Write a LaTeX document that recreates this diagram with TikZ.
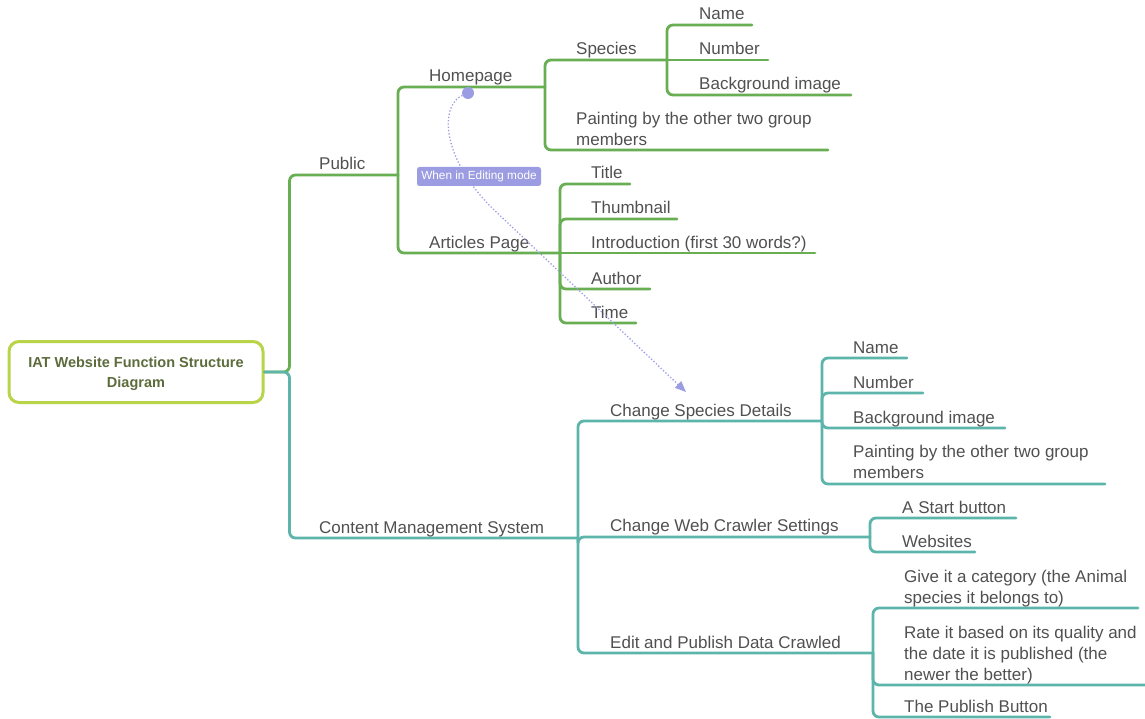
\documentclass[tikz,border=0pt]{standalone}
\usepackage{fontspec}
\setmainfont{Liberation Sans}
\usetikzlibrary{arrows.meta}
\definecolor{mgreen}{RGB}{104,174,82}
\definecolor{mteal}{RGB}{92,180,170}
\definecolor{rootborder}{RGB}{184,212,72}
\definecolor{roottext}{RGB}{92,108,60}
\definecolor{txt}{RGB}{80,80,80}
\definecolor{lav}{RGB}{156,156,226}
\tikzset{
  lbl/.style={anchor=base west, inner sep=0, text=txt, font=\fontsize{17}{21}\selectfont},
  mlbl/.style={anchor=north west, inner sep=0, text=txt, align=left, font=\fontsize{17}{21}\selectfont},
  gline/.style={draw=mgreen, line width=2.8, rounded corners=6, line cap=round},
  tline/.style={draw=mteal, line width=2.8, rounded corners=6, line cap=round},
  rootbox/.style={draw=rootborder, line width=3, rounded corners=10, fill=white,
    minimum width=254, minimum height=61, inner sep=0},
  roottitle/.style={inner sep=0, align=center, text=roottext,
    font=\fontsize{14.5}{20}\selectfont\bfseries},
  editlink/.style={draw=lav, line width=1.3, dotted, -{Triangle[length=11,width=9]}},
  editlabel/.style={fill=lav, text=white, rounded corners=2.5, minimum width=124,
    minimum height=19, inner sep=0, font=\fontsize{11.8}{13}\selectfont},
}
\begin{document}
\begin{tikzpicture}[x=1pt,y=-1pt]
\useasboundingbox (0,0) rectangle (1145,719);

% root
\node[rootbox] (root) at (136,372) {};
\node[roottitle, yshift=-1.5pt] (roottxt) at (root.center) {IAT Website Function Structure\\Diagram};

% ---- underline end coordinates ----
\coordinate (pub-e) at (398,175);
\coordinate (home-e) at (545,87);
\coordinate (spec-e) at (667,60);
\coordinate (name1-e) at (752,25);
\coordinate (num1-e) at (768,60);
\coordinate (bg1-e) at (851,95);
\coordinate (paint1-e) at (828,150);
\coordinate (art-e) at (560,253);
\coordinate (title-e) at (630,184);
\coordinate (thumb-e) at (677,219);
\coordinate (intro-e) at (815,253);
\coordinate (author-e) at (650,289);
\coordinate (time-e) at (636,323);

\coordinate (cms-e) at (578,538);
\coordinate (csd-e) at (822,421);
\coordinate (name2-e) at (907,358);
\coordinate (num2-e) at (923,393);
\coordinate (bg2-e) at (1005,428);
\coordinate (paint2-e) at (1105,484);
\coordinate (cwc-e) at (870,537);
\coordinate (start-e) at (1016,518);
\coordinate (web-e) at (975,552);
\coordinate (epd-e) at (873,653);
\coordinate (cat-e) at (1138,608);
\coordinate (rate-e) at (1146,685);
\coordinate (pubb-e) at (1050,717);

% ---- green branch ----
\draw[gline] (root.east) -- ++(25,0) |- (pub-e);
\draw[gline] (pub-e) |- (home-e);
\draw[gline] (pub-e) |- (art-e);
\draw[gline] (home-e) |- (spec-e);
\draw[gline] (home-e) |- (paint1-e);
\draw[gline] (spec-e) |- (name1-e);
\draw[gline] (spec-e) -- (num1-e);
\draw[gline] (spec-e) |- (bg1-e);
\draw[gline] (art-e) |- (title-e);
\draw[gline] (art-e) |- (thumb-e);
\draw[gline] (art-e) -- (intro-e);
\draw[gline] (art-e) |- (author-e);
\draw[gline] (art-e) |- (time-e);

% ---- teal branch ----
\draw[tline] (root.east) -- ++(25,0) |- (cms-e);
\draw[tline] (cms-e) |- (csd-e);
\draw[tline] (cms-e) |- (cwc-e);
\draw[tline] (cms-e) |- (epd-e);
\draw[tline] (csd-e) |- (name2-e);
\draw[tline] (csd-e) |- (num2-e);
\draw[tline] (csd-e) |- (bg2-e);
\draw[tline] (csd-e) |- (paint2-e);
\draw[tline] (cwc-e) |- (start-e);
\draw[tline] (cwc-e) |- (web-e);
\draw[tline] (epd-e) |- (cat-e);
\draw[tline] (epd-e) |- (rate-e);
\draw[tline] (epd-e) |- (pubb-e);

% ---- labels ----
\node[lbl] (pub) at (319,170) {Public};
\node[lbl] (home) at (429,82) {Homepage};
\node[lbl] (spec) at (576,55) {Species};
\node[lbl] (name1) at (699,20) {Name};
\node[lbl] (num1) at (699,55) {Number};
\node[lbl] (bg1) at (699,90) {Background image};
\node[mlbl] (paint1) at (576,111.5) {Painting by the other two group\\members};
\node[lbl] (art) at (429,248) {Articles Page};
\node[lbl] (title) at (591,179) {Title};
\node[lbl] (thumb) at (591,214) {Thumbnail};
\node[lbl] (intro) at (591,248) {Introduction (first 30 words?)};
\node[lbl] (author) at (591,284) {Author};
\node[lbl] (time) at (591,318) {Time};

\node[lbl] (cms) at (319,533) {Content Management System};
\node[lbl] (csd) at (610,416) {Change Species Details};
\node[lbl] (name2) at (853,353) {Name};
\node[lbl] (num2) at (853,388) {Number};
\node[lbl] (bg2) at (853,423) {Background image};
\node[mlbl] (paint2) at (853,445) {Painting by the other two group\\members};
\node[lbl] (cwc) at (610,531) {Change Web Crawler Settings};
\node[lbl] (start) at (902,513) {A Start button};
\node[lbl] (web) at (902,547) {Websites};
\node[lbl] (epd) at (610,648) {Edit and Publish Data Crawled};
\node[mlbl] (cat) at (904,569.5) {Give it a category (the Animal\\species it belongs to)};
\node[mlbl] (rate) at (904,625.5) {Rate it based on its quality and\\the date it is published (the\\newer the better)};
\node[lbl] (pubb) at (904,712) {The Publish Button};

% ---- editing-mode link ----
\node[circle, fill=lav, minimum size=12, inner sep=0] (hp-dot) at (468,93) {};
\coordinate (csd-tip) at (686,392);
\draw[editlink] (hp-dot) .. controls (442,104) and (438,152) .. (490,206) -- (csd-tip);
\node[editlabel] (editlbl) at (479,176.5) {When in Editing mode};
\end{tikzpicture}
\end{document}
